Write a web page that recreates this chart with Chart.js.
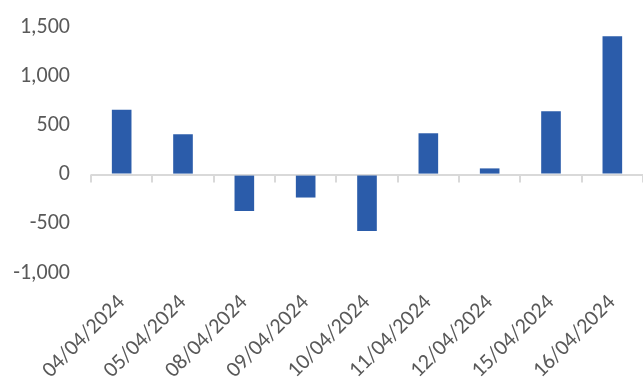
<!DOCTYPE html>
<html>
<head>
<meta charset="utf-8">
<script src="https://cdn.jsdelivr.net/npm/chart.js@4/dist/chart.umd.min.js"></script>
<style>
  html, body { margin: 0; padding: 0; background: #ffffff; overflow: hidden; }
  #wrap { width: 643px; height: 379px; position: relative; }
</style>
</head>
<body>
<div id="wrap"><canvas id="chart" width="643" height="379"></canvas></div>
<script>
// Daily change values by trading date
const categories = ['04/04/2024', '05/04/2024', '08/04/2024', '09/04/2024', '10/04/2024',
                    '11/04/2024', '12/04/2024', '15/04/2024', '16/04/2024'];
const values = [660, 410, -370, -233, -573, 420, 63, 645, 1406];
const yTickValues = [-1000, -500, 0, 500, 1000, 1500];

const textColor = '#595959';
const lineColor = '#d9d9d9';
const barColor = '#2b5caa';
const fontFamily = 'Carlito, Calibri, Lato, sans-serif';
const clear = 'rgba(0,0,0,0)';

// Short tick marks hanging below the zero line at each category boundary
const zeroTicks = {
  id: 'zeroTicks',
  afterDatasetsDraw(chart) {
    const x = chart.scales.x, y = chart.scales.y;
    const y0 = y.getPixelForValue(0);
    const half = (x.getPixelForValue(1) - x.getPixelForValue(0)) / 2;
    const ctx = chart.ctx;
    ctx.save();
    ctx.strokeStyle = lineColor;
    ctx.lineWidth = 2;
    for (let i = 0; i <= categories.length; i++) {
      const px = Math.round(x.getPixelForValue(i) - half);
      ctx.beginPath();
      ctx.moveTo(px, y0);
      ctx.lineTo(px, y0 + 8);
      ctx.stroke();
    }
    ctx.restore();
  }
};

new Chart(document.getElementById('chart'), {
  type: 'bar',
  data: {
    labels: categories,
    datasets: [{
      data: values,
      backgroundColor: barColor,
      borderWidth: 0,
      categoryPercentage: 1,
      barPercentage: 0.32
    }]
  },
  options: {
    responsive: false,
    animation: false,
    layout: { padding: { top: 27, left: 0, right: 0, bottom: 0 } },
    plugins: { legend: { display: false }, tooltip: { enabled: false } },
    scales: {
      x: {
        grid: {
          display: true,
          drawOnChartArea: false,
          drawTicks: true,
          tickLength: 17,
          color: clear,
          tickColor: clear
        },
        border: { display: false },
        ticks: {
          color: textColor,
          font: { family: fontFamily, size: 22 },
          minRotation: 45,
          maxRotation: 45,
          autoSkip: false,
          padding: 0
        },
        afterFit(scale) { scale.height = 106; }
      },
      y: {
        min: -1000,
        max: 1500,
        afterBuildTicks(scale) { scale.ticks = yTickValues.map(v => ({ value: v })); },
        grid: {
          drawTicks: true,
          tickLength: 21,
          tickColor: clear,
          color: c => (c.tick && c.tick.value === 0) ? lineColor : clear,
          lineWidth: 2
        },
        border: { display: false },
        ticks: {
          color: textColor,
          font: { family: fontFamily, size: 22 },
          padding: 0,
          callback: v => Number(v).toLocaleString('en-US')
        },
        afterFit(scale) { scale.width = 91; }
      }
    }
  },
  plugins: [zeroTicks]
});
</script>
</body>
</html>
